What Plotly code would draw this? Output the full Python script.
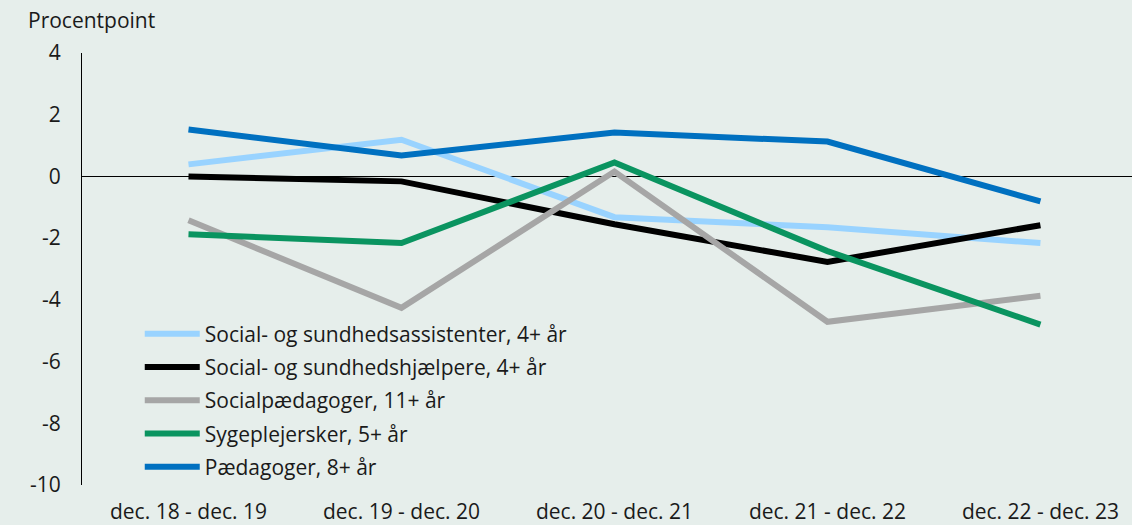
import plotly.graph_objects as go

categories = ["dec. 18 - dec. 19", "dec. 19 - dec. 20", "dec. 20 - dec. 21", "dec. 21 - dec. 22", "dec. 22 - dec. 23"]
y_ticks = [-10, -8, -6, -4, -2, 0, 2, 4]
y_tick_labels = ["-10", "-8", "-6", "-4", "-2", "0", "2", "4"]

sosu_assistenter = [0.39, 1.19, -1.32, -1.65, -2.16]
sosu_hjaelpere = [0.0, -0.16, -1.55, -2.77, -1.58]
socialpaedagoger = [-1.42, -4.26, 0.16, -4.71, -3.87]
sygeplejersker = [-1.87, -2.16, 0.45, -2.42, -4.80]
paedagoger = [1.52, 0.68, 1.42, 1.13, -0.81]

series = [
    ("Social- og sundhedsassistenter, 4+ år", sosu_assistenter, "#99D3FF"),
    ("Social- og sundhedshjælpere, 4+ år", sosu_hjaelpere, "#000000"),
    ("Socialpædagoger, 11+ år", socialpaedagoger, "#A6A6A6"),
    ("Sygeplejersker, 5+ år", sygeplejersker, "#0A9460"),
    ("Pædagoger, 8+ år", paedagoger, "#0070C0"),
]

FONT = "Open Sans"
FS = 21
fig = go.Figure()
for i, (name, vals, col) in enumerate(series):
    fig.add_trace(go.Scatter(
        x=list(range(len(categories))), y=vals, name=name, mode="lines",
        line=dict(color=col, width=6), legendgroup=f"g{i}",
    ))

BG = "#E6EEEB"
fig.update_layout(
    width=1132, height=525,
    paper_bgcolor=BG, plot_bgcolor=BG,
    margin=dict(l=82, r=0, t=53, b=40),
    font=dict(family=FONT, size=FS, color="#1a1a1a"),
    showlegend=True,
    legend=dict(x=0.055, y=0.397, xanchor="left", yanchor="top",
                bgcolor="rgba(0,0,0,0)", itemwidth=55, traceorder="grouped",
                font=dict(size=FS), tracegroupgap=3),
    xaxis=dict(
        tickmode="array", tickvals=list(range(len(categories))), ticktext=categories,
        range=[-0.5, 4.43], showgrid=False, zeroline=False, showline=False,
        ticks="", ticklabelstandoff=12,
    ),
    yaxis=dict(
        range=[-10, 4], tickmode="array", tickvals=y_ticks, ticktext=y_tick_labels,
        showgrid=False, zeroline=True, zerolinecolor="#000000", zerolinewidth=1,
        showline=True, linecolor="#000000", linewidth=1, ticks="",
        ticklabelstandoff=16,
    ),
    annotations=[dict(text="Procentpoint", xref="paper", yref="paper",
                      x=-82/1050 + 26/1050, y=1 + 33/432, xanchor="left", yanchor="middle",
                      showarrow=False, font=dict(size=FS))],
)

fig.write_html("out.html", config={"displayModeBar": False},
               post_script="document.body.style.margin='0';document.body.style.overflow='hidden';")
